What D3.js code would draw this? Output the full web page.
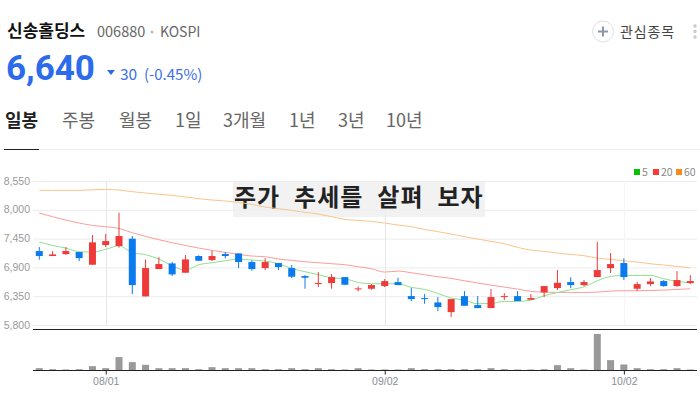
<!DOCTYPE html>
<html>
<head>
<meta charset="utf-8">
<script src="https://cdnjs.cloudflare.com/ajax/libs/d3/7.8.5/d3.min.js"></script>
<style>
  html, body { margin: 0; padding: 0; background: #fff; }
  svg { display: block; font-family: "Noto Sans CJK KR", "Noto Sans", sans-serif; }
</style>
</head>
<body>
<svg id="chart" width="700" height="400"></svg>
<script>
// daily candles, oldest first
var opens = [7212,7117,7155,7193,6951,7327,7308,7448,6346,6868,6976,6798,7117,7040,7155,7167,7002,6887,6983,6887,6734,6581,6601,6715,6480,6492,6543,6620,6352,6314,6231,6046,6352,6180,6123,6333,6352,6282,6422,6505,6620,6562,6715,6887,6983,6492,6581,6639,6543,6600];
var closes = [7117,7148,7212,7078,7378,7403,7499,6562,6887,6964,6766,7053,7027,7117,7117,7002,6868,7002,6906,6722,6702,6601,6715,6569,6499,6562,6639,6562,6295,6295,6142,6295,6167,6123,6333,6352,6257,6314,6543,6607,6562,6620,6849,6964,6715,6581,6632,6543,6658,6639];
var highs = [7288,7212,7288,7193,7518,7537,7945,7499,7053,7097,7002,7136,7129,7218,7193,7167,7034,7078,6983,6945,6753,6811,6773,6715,6537,6581,6677,6703,6505,6390,6333,6295,6448,6352,6486,6409,6448,6390,6543,6849,6709,6658,7384,7174,7072,6620,6696,6658,6830,6753];
var lows = [7046,7117,7136,7021,6945,7288,7276,6390,6346,6868,6734,6798,7021,7021,7072,6887,6836,6849,6849,6696,6492,6524,6492,6562,6441,6473,6524,6562,6257,6206,6065,5951,6167,6123,6123,6276,6257,6282,6333,6467,6505,6543,6715,6792,6658,6448,6543,6530,6530,6581];
var ma5 = [7384,7320,7269,7199,7193,7244,7314,7180,7142,7059,6932,6849,6951,6989,7027,7059,7040,7021,6970,6881,6817,6760,6702,6683,6613,6588,6588,6588,6518,6480,6403,6314,6276,6206,6212,6250,6250,6276,6358,6422,6473,6530,6645,6728,6747,6747,6747,6683,6632,6607];
var ma20 = [7938,7868,7804,7747,7703,7677,7645,7562,7492,7429,7371,7320,7269,7225,7187,7148,7117,7104,7059,7034,7008,6989,6970,6951,6913,6874,6811,6830,6798,6760,6722,6690,6645,6601,6562,6524,6486,6441,6428,6422,6422,6422,6428,6448,6454,6454,6460,6467,6479,6492];
var ma60 = [8371,8371,8371,8371,8384,8391,8378,8346,8320,8295,8276,8244,8212,8187,8168,8142,8104,8053,8021,7989,7951,7919,7868,7817,7798,7779,7747,7709,7677,7626,7582,7537,7486,7441,7397,7352,7282,7231,7206,7174,7148,7123,7078,7053,7027,7002,6970,6945,6919,6893];
var volumes = [7,4,3,4,13,7,40,25,17,7,7,7,4,10,7,7,7,4,4,7,4,7,4,3,7,3,3,3,7,4,4,4,4,4,7,4,3,3,4,16,7,3,109,31,18,7,4,4,7,3];

var yTicks = [5800,6350,6900,7450,8000,8550];
var dateIndexes = [5,26,44];
var dateLabels = ["08/01","09/02","10/02"];
var tabs = ["일봉","주봉","월봉","1일","3개월","1년","3년","10년"];
var tabX = [5,62,119,175,223,289,338,386];
var legendNames = ["5","20","60"];
var legendColors = ["#04c404","#f93a3a","#fb8a1c"];
var legendX = [634,653,676];

var svg = d3.select("#chart");

var x = d3.scaleLinear().domain([0, 49]).range([39.3, 690.3]);
var y = d3.scaleLinear().domain([5800, 8550]).range([325, 181]);
var yVol = d3.scaleLinear().domain([0, 109]).range([370.5, 334]);

// header
function label(px, py, str, size, color, weight) {
  return svg.append("text").attr("x", px).attr("y", py).text(str)
    .attr("font-size", size).attr("fill", color).attr("font-weight", weight || 400);
}
label(7, 37, "신송홀딩스", 17, "#111", 700);
label(97, 37, "006880", 14.5, "#666");
svg.append("circle").attr("cx", 152).attr("cy", 32).attr("r", 1.5).attr("fill", "#bbb");
label(160, 37, "KOSPI", 14, "#666");
label(6, 80, "6,640", 35, "#2b6bec", 700).attr("font-family", "Roboto");
svg.append("path").attr("d", "M107,70L115,70L111,75Z").attr("fill", "#2b6bec");
label(120, 80, "30", 15.5, "#3b6fe8");
label(144, 80, "(-0.45%)", 15, "#3b6fe8");

svg.append("circle").attr("cx", 603).attr("cy", 31.5).attr("r", 10.5)
  .attr("fill", "#fff").attr("stroke", "#dde0e6");
svg.append("path").attr("d", "M598,31.5H608M603,26.5V36.5")
  .attr("stroke", "#8c97a8").attr("stroke-width", 2);
label(620, 37, "관심종목", 14, "#444").attr("letter-spacing", 0.9);
svg.selectAll(".dot").data([26, 31.5, 37]).enter().append("circle")
  .attr("cx", 695).attr("cy", function(d) { return d; }).attr("r", 1.7).attr("fill", "#c6c9d0");

// tabs
tabs.forEach(function(t, i) {
  label(tabX[i], 127, t, 18, i == 0 ? "#222" : "#666", i == 0 ? 700 : 400);
});
svg.append("line").attr("x1", 0).attr("x2", 700).attr("y1", 149.5).attr("y2", 149.5).attr("stroke", "#f0f0f0");
svg.append("line").attr("x1", 4).attr("x2", 39).attr("y1", 149.5).attr("y2", 149.5).attr("stroke", "#222");

// legend
legendNames.forEach(function(n, i) {
  svg.append("rect").attr("x", legendX[i]).attr("y", 169).attr("width", 6).attr("height", 6).attr("fill", legendColors[i]);
  label(legendX[i] + 8, 175.5, n, 10.5, "#888");
});

// price axis and grid
var yAxis = d3.axisLeft(y).tickValues(yTicks).tickFormat(d3.format(",")).tickSize(-664).tickPadding(3);
var gy = svg.append("g").attr("transform", "translate(33,0)").call(yAxis);
gy.select(".domain").remove();
gy.selectAll("line").attr("stroke", "#ececec");
gy.selectAll("text").attr("font-size", 10.5).attr("fill", "#999").attr("dy", "0.3em");

svg.selectAll(".vgrid").data(dateIndexes).enter().append("line")
  .attr("x1", function(d) { return Math.round(x(d)) + 0.5; })
  .attr("x2", function(d) { return Math.round(x(d)) + 0.5; })
  .attr("y1", 181).attr("y2", 325)
  .attr("stroke", function(d, i) { return i == 2 ? "#f5f5f5" : "#e6e6e6"; });

// overlay caption
svg.append("rect").attr("x", 233).attr("y", 182).attr("width", 252).attr("height", 35).attr("fill", "#efefef").attr("opacity", 0.8);
label(234, 206, "주가 추세를 살펴 보자", 24, "#222", 700).attr("letter-spacing", 1).attr("word-spacing", 7.5);

// moving averages
var line = d3.line().x(function(d, i) { return x(i); }).y(function(d) { return y(d); }).curve(d3.curveMonotoneX);
svg.append("path").attr("d", line(ma60)).attr("fill", "none").attr("stroke", "#fbc48c");
svg.append("path").attr("d", line(ma20)).attr("fill", "none").attr("stroke", "#fb9d9d");
svg.append("path").attr("d", line(ma5)).attr("fill", "none").attr("stroke", "#8fe08f");

// candles
function candleColor(i) { return closes[i] >= opens[i] ? "#ef3a3a" : "#0a7bef"; }
var candles = svg.selectAll(".candle").data(opens).enter().append("g").attr("class", "candle");
candles.append("line")
  .attr("x1", function(d, i) { return x(i); })
  .attr("x2", function(d, i) { return x(i); })
  .attr("y1", function(d, i) { return y(highs[i]); })
  .attr("y2", function(d, i) { return y(lows[i]); })
  .attr("stroke", function(d, i) { return candleColor(i); });
candles.append("rect")
  .attr("x", function(d, i) { return x(i) - 3.5; })
  .attr("width", 7)
  .attr("y", function(d, i) { return y(Math.max(opens[i], closes[i])); })
  .attr("height", function(d, i) { return Math.max(1, Math.abs(y(opens[i]) - y(closes[i]))); })
  .attr("fill", function(d, i) { return candleColor(i); });

// volume panel
svg.selectAll(".vol").data(volumes).enter().append("rect")
  .attr("x", function(d, i) { return x(i) - 3.5; })
  .attr("width", 7)
  .attr("y", function(d) { return yVol(d); })
  .attr("height", function(d) { return yVol(0) - yVol(d); })
  .attr("fill", "#999");

svg.append("line").attr("x1", 33).attr("x2", 697).attr("y1", 329.5).attr("y2", 329.5).attr("stroke", "#222");

var xAxis = d3.axisBottom(x).tickValues(dateIndexes)
  .tickFormat(function(d, i) { return dateLabels[i]; }).tickSize(4).tickPadding(3);
var gx = svg.append("g").attr("transform", "translate(0,370.5)").call(xAxis);
gx.select(".domain").attr("d", "M33,0H697").attr("stroke", "#222");
gx.selectAll("line").attr("stroke", "#222");
gx.selectAll("text").attr("font-size", 10.5).attr("fill", "#8a8f99");
</script>
</body>
</html>
